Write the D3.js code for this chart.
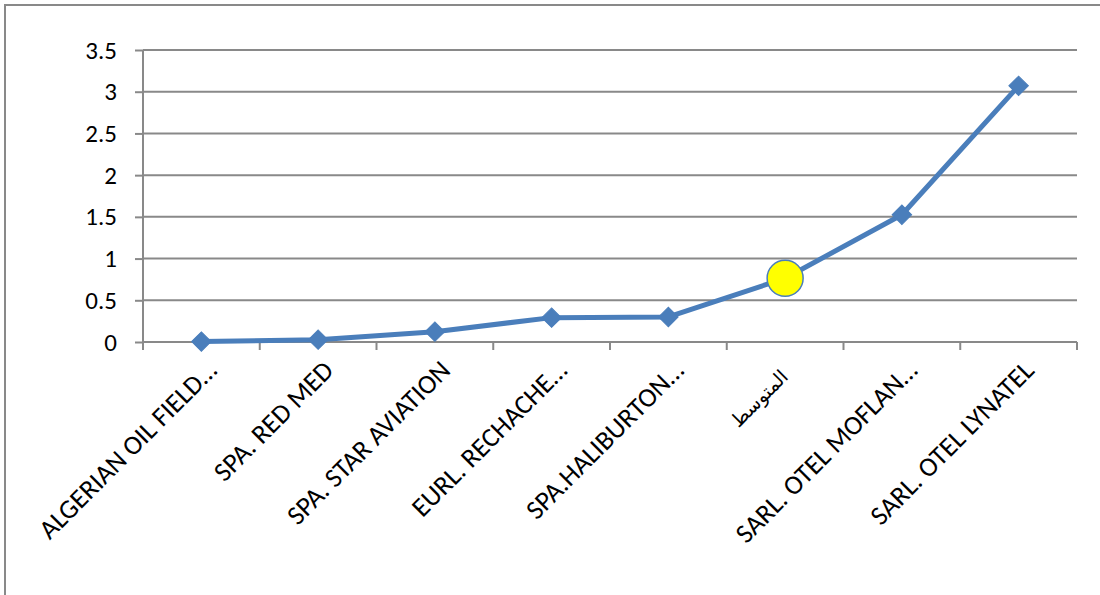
<!DOCTYPE html>
<html>
<head>
<meta charset="utf-8">
<script src="https://cdn.jsdelivr.net/npm/d3@7"></script>
<style>
html,body{margin:0;padding:0;background:#fff;overflow:hidden;}
svg{display:block;}
</style>
</head>
<body>
<svg id="chart" width="1100" height="595"></svg>
<script>
const categories = ["ALGERIAN OIL FIELD…","SPA. RED MED","SPA. STAR AVIATION","EURL. RECHACHE…","SPA.HALIBURTON…","المتوسط","SARL. OTEL MOFLAN…","SARL. OTEL LYNATEL"];
const values = [0.005, 0.028, 0.124, 0.292, 0.30, 0.764, 1.525, 3.07];
const highlightIndex = 5;
const yTicks = [0, 0.5, 1, 1.5, 2, 2.5, 3, 3.5];
const yTickLabels = ["0","0.5","1","1.5","2","2.5","3","3.5"];

const svg = d3.select("#chart");
const FONT = "Carlito, Lato, 'DejaVu Sans', sans-serif";
const grey = "#898989";
const blue = "#4a7ebb";

// outer border
svg.append("rect").attr("x",5).attr("y",5).attr("width",1110).attr("height",610)
  .attr("fill","none").attr("stroke",grey).attr("stroke-width",2);

const x = d3.scaleBand().domain(categories).range([143,1077]).padding(0);
const y = d3.scaleLinear().domain([0,3.5]).range([342,50]);

// gridlines
svg.append("g").selectAll("line").data(yTicks.slice(1)).join("line")
  .attr("x1",143).attr("x2",1077)
  .attr("y1",d=>y(d)).attr("y2",d=>y(d))
  .attr("stroke",grey).attr("stroke-width",2);

// y axis
const yAxis = d3.axisLeft(y).tickValues(yTicks).tickFormat((d,i)=>yTickLabels[i]).tickSize(8).tickPadding(18);
const gy = svg.append("g").attr("transform","translate(143,0)").call(yAxis);
gy.select(".domain").attr("stroke",grey).attr("stroke-width",2).attr("d","M0,"+y(3.5)+"V"+y(0));
gy.selectAll(".tick line").attr("stroke",grey).attr("stroke-width",2);
gy.selectAll(".tick text").attr("font-family",FONT).attr("font-size",25).attr("fill","#000");

// x axis line
svg.append("line").attr("x1",143).attr("x2",1077).attr("y1",y(0)).attr("y2",y(0))
  .attr("stroke",grey).attr("stroke-width",2);
// x tick marks between categories
const xTickPos = categories.map(c=>x(c)).concat([x(categories[categories.length-1])+x.bandwidth()]);
svg.append("g").selectAll("line").data(xTickPos).join("line")
  .attr("x1",d=>d).attr("x2",d=>d).attr("y1",y(0)).attr("y2",y(0)+8)
  .attr("stroke",grey).attr("stroke-width",2);

// x labels
svg.append("g").selectAll("text").data(categories).join("text")
  .attr("transform",(d,i)=>i===highlightIndex
      ? `translate(${x(d)+x.bandwidth()/2+4},378) rotate(-45)`
      : `translate(${x(d)+x.bandwidth()/2+17},372) rotate(-45)`)
  .attr("text-anchor","end")
  .attr("font-family",(d,i)=>i===highlightIndex?"'DejaVu Sans', sans-serif":FONT)
  .attr("font-size",(d,i)=>i===highlightIndex?19:27).attr("fill","#000")
  .text(d=>d);

// line
const cx = (d,i)=>x(categories[i])+x.bandwidth()/2;
const line = d3.line().x((d,i)=>cx(d,i)).y(d=>y(d));
svg.append("path").datum(values).attr("d",line)
  .attr("fill","none").attr("stroke",blue).attr("stroke-width",5).attr("stroke-linejoin","round");

// diamond markers
const diamond = d3.symbol().type(d3.symbolSquare).size(190);
svg.append("g").selectAll("path").data(values.map((v,i)=>({v,i})).filter(d=>d.i!==highlightIndex)).join("path")
  .attr("d",diamond)
  .attr("transform",d=>`translate(${cx(d.v,d.i)},${y(d.v)}) rotate(45)`)
  .attr("fill",blue).attr("stroke",blue).attr("stroke-width",1);

// highlighted average point
svg.append("circle").attr("cx",cx(values[highlightIndex],highlightIndex)).attr("cy",y(values[highlightIndex]))
  .attr("r",18).attr("fill","#ffff00").attr("stroke",blue).attr("stroke-width",1.5);
</script>
</body>
</html>
